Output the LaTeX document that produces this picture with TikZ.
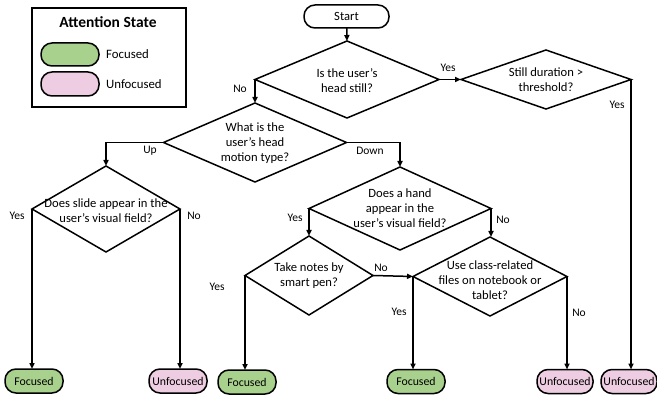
\documentclass[tikz,border=0pt]{standalone}
\usepackage{fontspec}
\setmainfont{Carlito}
\usetikzlibrary{shapes.geometric,arrows.meta}
\definecolor{focg}{RGB}{169,209,142}
\definecolor{unfp}{RGB}{238,204,226}
\tikzset{
 dia/.style={diamond, draw, line width=1.5pt, inner sep=0pt, outer sep=0pt},
 dtxt/.style={font=\fontsize{12.6}{15}\selectfont, align=center, inner sep=0pt},
 term/.style={rectangle, rounded corners=11pt, draw, line width=1.5pt, minimum width=58pt, minimum height=24pt, inner sep=0pt, outer sep=0pt, font=\fontsize{11.8}{13}\selectfont},
 foc/.style={term, fill=focg},
 unf/.style={term, fill=unfp},
 arr/.style={line width=1.5pt, -{Triangle[length=6pt,width=5pt]}},
 lbl/.style={font=\fontsize{11.5}{13}\selectfont, inner sep=0pt},
}
\begin{document}
\begin{tikzpicture}[x=1pt,y=-1pt]
\useasboundingbox (0,0) rectangle (657,401);
% legend
\node[draw, line width=1.2pt, minimum width=154pt, minimum height=99pt, inner sep=0pt] (legend) at (109,57.5) {};
\node[font=\bfseries\fontsize{15.5}{17}\selectfont, inner sep=0pt] (ltitle) at (108,22) {Attention State};
\node[foc, minimum width=58pt, minimum height=23pt] (lfoc) at (70,54.5) {};
\node[unf, minimum width=58pt, minimum height=24pt] (lunf) at (70,84) {};
\node[anchor=west, font=\fontsize{12.8}{15}\selectfont, inner sep=0pt] (lfoct) at (106,54.5) {Focused};
\node[anchor=west, font=\fontsize{12.8}{15}\selectfont, inner sep=0pt] (lunft) at (106,84) {Unfocused};
% start
\node[term, fill=white, minimum width=85pt, minimum height=23pt, font=\fontsize{12.6}{14}\selectfont] (start) at (346.5,16.5) {Start};
% diamonds
\node[dia, minimum width=184pt, minimum height=77pt] (d1) at (347,79.5) {};
\node[dtxt] (t1) at (347,81) {Is the user's\\head still?};
\node[dia, minimum width=170pt, minimum height=59pt] (d2) at (546,79.5) {};
\node[dtxt] (t2) at (546,80) {Still duration >\\threshold?};
\node[dia, minimum width=183pt, minimum height=79pt] (d3) at (255,142.5) {};
\node[dtxt] (t3) at (255,143) {What is the\\user's head\\motion type?};
\node[dia, minimum width=148pt, minimum height=86pt] (d4) at (106,209) {};
\node[dtxt] (t4) at (106,211) {Does slide appear in the\\user's visual field?};
\node[dia, minimum width=182pt, minimum height=83pt] (d5) at (400,208.5) {};
\node[dtxt] (t5) at (400,208) {Does a hand\\appear in the\\user's visual field?};
\node[dia, minimum width=128pt, minimum height=79pt] (d6) at (309,275.5) {};
\node[dtxt] (t6) at (309,276) {Take notes by\\smart pen?};
\node[dia, minimum width=154pt, minimum height=79pt] (d7) at (490,276.5) {};
\node[dtxt] (t7) at (490,280) {Use class-related\\files on notebook or\\tablet?};
% terminals
\node[foc] (f1) at (34,381) {Focused};
\node[unf] (u1) at (178,381) {Unfocused};
\node[foc] (f2) at (247,382) {Focused};
\node[foc] (f3) at (416,381.5) {Focused};
\node[unf, minimum width=56pt] (u2) at (565,381.5) {Unfocused};
\node[unf, minimum width=56pt] (u3) at (629,381.5) {Unfocused};
% connectors
\draw[arr] (start) -- (d1.north);
\draw[arr] (d1.east) -- (d2.west);
\draw[arr] (d1.west) -- (d1.west |- d3.north);
\draw[arr] (d3.west) -| (d4.north);
\draw[arr] (d3.east) -| (d5.north);
\draw[arr] (d4.west) -- (d4.west |- f1.north);
\draw[arr] (d4.east) -- (d4.east |- u1.north);
\draw[arr] (d5.west) -- (d5.west |- d6.north);
\draw[arr] (d5.east) -- (d5.east |- d7.north);
\draw[arr] (d6.west) -- (d6.west |- f2.north);
\draw[arr] (d6.east) -- (d7.west);
\draw[arr] (d7.west) -- (d7.west |- f3.north);
\draw[arr] (d7.east) -- (d7.east |- u2.north);
\draw[arr] (d2.east) -- (d2.east |- u3.north);
% labels
\node[lbl] (y1) at (448,68) {Yes};
\node[lbl] (n1) at (240,89) {No};
\node[lbl] (up) at (150,151) {Up};
\node[lbl] (dn) at (370,151) {Down};
\node[lbl] (y4) at (17,216) {Yes};
\node[lbl] (n4) at (194,216) {No};
\node[lbl] (y5) at (295,218) {Yes};
\node[lbl] (n5) at (503,220) {No};
\node[lbl] (y6) at (217,287) {Yes};
\node[lbl] (n6) at (381,268) {No};
\node[lbl] (y7) at (399,312) {Yes};
\node[lbl] (n7) at (579,313) {No};
\node[lbl] (y2) at (617,105) {Yes};
\end{tikzpicture}
\end{document}
